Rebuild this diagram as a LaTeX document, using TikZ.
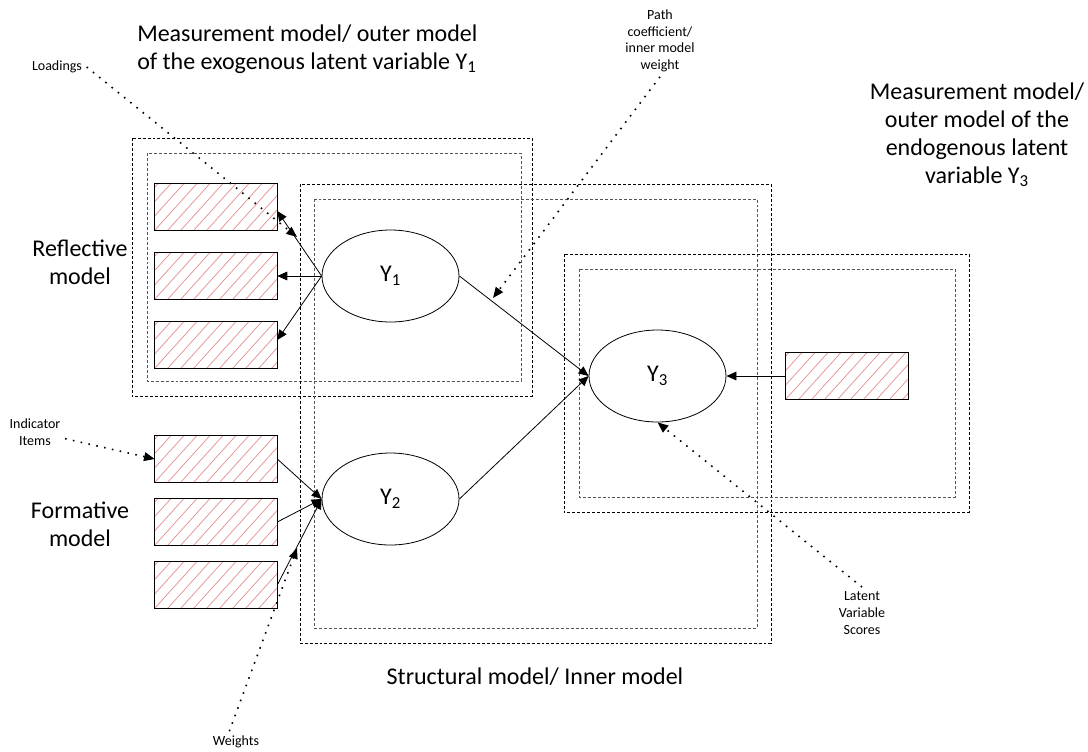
\documentclass[tikz,border=0pt]{standalone}
\usepackage{fontspec}
\setmainfont{Carlito}
\usetikzlibrary{arrows.meta,shapes.geometric}
\definecolor{hatchred}{RGB}{230,145,145}
\definecolor{boxgray}{RGB}{85,85,85}
\newcommand\hatchbox[3]{%
  \node[indicator] (#1) at (#2,#3) {};
  \begin{scope}
    \clip (#1.south west) rectangle (#1.north east);
    \foreach \k in {-4,...,10} \draw[hatch] ([xshift=\k*9.75pt]#1.south west) -- ++(56,-62);
  \end{scope}
  \draw[indborder] (#1.south west) rectangle (#1.north east);}
\begin{document}
\begin{tikzpicture}[x=0.75pt,y=-0.75pt,
  outerbox/.style={draw=black,line width=0.6pt,dash pattern=on 2.2pt off 1.5pt},
  innerbox/.style={draw=boxgray,line width=0.6pt,dash pattern=on 2.2pt off 1.5pt},
  indicator/.style={rectangle,fill=white,minimum width=91.5pt,minimum height=34.5pt,inner sep=0pt},
  indborder/.style={draw=black,line width=0.9pt},
  hatch/.style={draw=hatchred,line width=0.55pt},
  latent/.style={ellipse,draw=black,line width=0.6pt,minimum width=102.75pt,minimum height=69pt,inner sep=0pt,font=\fontsize{18}{21}\selectfont},
  conn/.style={-{Triangle[length=7.5pt,width=6.5pt]},line width=0.6pt},
  annot/.style={-{Triangle[length=8pt,width=6.5pt]},line width=1.2pt,dash pattern=on 1.2pt off 4.8pt},
  bigtext/.style={font=\fontsize{18}{21}\selectfont,inner sep=0pt},
  smalltext/.style={font=\fontsize{10.5}{12.5}\selectfont,align=center}
]
\useasboundingbox (0,0) rectangle (1088,751);
% dashed boxes
\draw[outerbox] (132,138) rectangle (532,396);
\draw[innerbox] (147,153) rectangle (521,381);
\draw[outerbox] (300,184) rectangle (771,643);
\draw[innerbox] (314,199) rectangle (757,628);
\draw[outerbox] (564,254) rectangle (969,512);
\draw[innerbox] (579,269) rectangle (955,497);
% indicators
\hatchbox{r1}{216}{207}
\hatchbox{r2}{216}{276}
\hatchbox{r3}{216}{345}
\hatchbox{r4}{216}{459}
\hatchbox{r5}{216}{522}
\hatchbox{r6}{216}{585}
\hatchbox{r7}{847}{376}
% latent variables
\node[latent] (Y1) at (390.5,276) {Y\textsubscript{1}};
\node[latent] (Y2) at (390.5,499) {Y\textsubscript{2}};
\node[latent] (Y3) at (657.5,376) {Y\textsubscript{3}};
% connectors
\draw[conn] (Y1.west) -- ([yshift=-3pt]r1.east);
\draw[conn] (Y1.west) -- (r2.east);
\draw[conn] (Y1.west) -- ([yshift=3.75pt]r3.east);
\draw[conn] (r4.east) -- (Y2.west);
\draw[conn] (r5.east) -- (Y2.west);
\draw[conn] (r6.east) -- (Y2.west);
\draw[conn] (Y1.east) -- (Y3.west);
\draw[conn] (Y2.east) -- (Y3.west);
\draw[conn] (r7.west) -- (Y3.east);
% texts
\node[bigtext,anchor=west,align=left] (t1) at (137,49) {Measurement model/ outer model\\of the exogenous latent variable Y\textsubscript{1}};
\node[bigtext,align=center] (t2) at (977,134.5) {Measurement model/\\outer model of the\\endogenous latent\\variable Y\textsubscript{3}};
\node[bigtext,align=center] (t3) at (80,262) {Reflective\\model};
\node[bigtext,align=center] (t4) at (80,524) {Formative\\model};
\node[bigtext] (t5) at (535,677) {Structural model/ Inner model};
% annotations
\node[smalltext] (lo) at (57,67) {Loadings};
\node[smalltext] (pc) at (660,41) {Path\\coefficient/\\inner model\\weight};
\node[smalltext] (lv) at (862,613) {Latent\\Variable\\Scores};
\node[smalltext] (ii) at (35,432) {Indicator\\Items};
\node[smalltext] (we) at (236,742) {Weights};
\coordinate (loT) at (297,237);
\coordinate (pcT) at (493,298);
\coordinate (weT) at (297,548);
\draw[annot] (lo.east) -- (loT);
\draw[annot] (pc.south) -- (pcT);
\draw[annot] (lv.north) -- (Y3.south);
\draw[annot] ([yshift=-5pt]ii.east) -- (r4.west);
\draw[annot] ([xshift=-5pt]we.north) -- (weT);
\end{tikzpicture}
\end{document}
